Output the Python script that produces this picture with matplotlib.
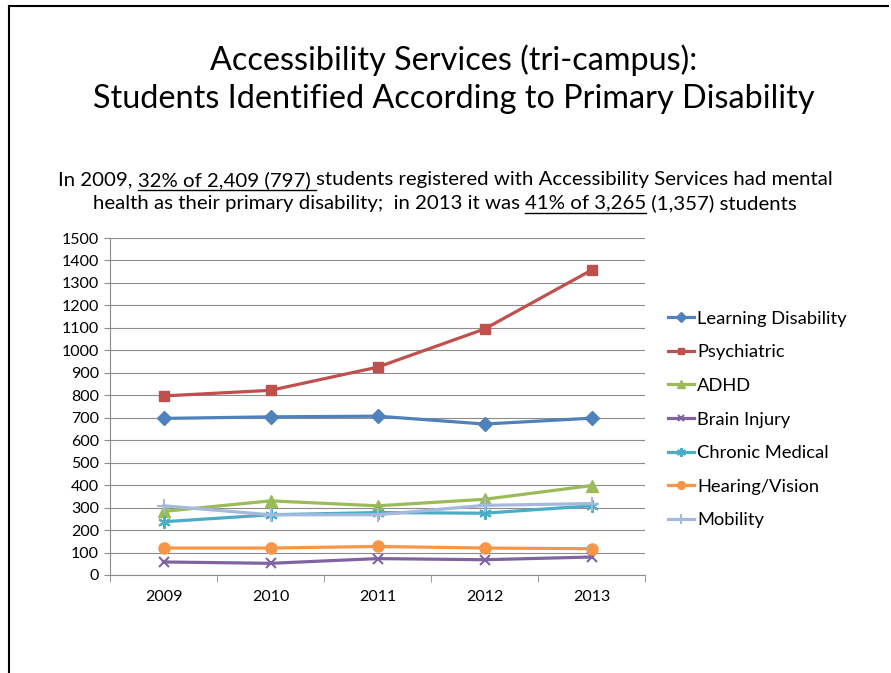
import matplotlib.pyplot as plt
from matplotlib.lines import Line2D

years = ["2009", "2010", "2011", "2012", "2013"]
learning = [697, 704, 707, 672, 698]
psychiatric = [797, 822, 925, 1095, 1357]
adhd = [283, 330, 308, 337, 398]
brain_injury = [58, 52, 73, 68, 80]
chronic_medical = [237, 268, 278, 275, 308]
hearing_vision = [120, 120, 127, 120, 117]
mobility = [308, 268, 268, 310, 318]

series = [
    ("Learning Disability", learning, "#4F81BD", "D", 7),
    ("Psychiatric", psychiatric, "#C0504D", "s", 7),
    ("ADHD", adhd, "#9BBB59", "^", 8),
    ("Brain Injury", brain_injury, "#8064A2", "x", 7),
    ("Chronic Medical", chronic_medical, "#4BACC6", (6, 2, 0), 9),
    ("Hearing/Vision", hearing_vision, "#F79646", "o", 8),
    ("Mobility", mobility, "#A5B9DC", "+", 10),
]

plt.rcParams['font.family'] = ['Lato', 'DejaVu Sans']

W, H = 891, 673
fig = plt.figure(figsize=(W / 100, H / 100), dpi=100)

# slide frame
fig.add_artist(Line2D([9 / W, 9 / W], [0, 1 - 6 / H], color="black", lw=1.5))
fig.add_artist(Line2D([9 / W, 888 / W], [1 - 6 / H, 1 - 6 / H], color="black", lw=1.5))

fig.text(454 / W, 1 - 60 / H, "Accessibility Services (tri-campus):",
         ha="center", va="center", fontsize=23.3)
fig.text(454 / W, 1 - 99 / H, "Students Identified According to Primary Disability",
         ha="center", va="center", fontsize=23.3)

renderer = fig.canvas.get_renderer()


def text_width(s, size):
    t = fig.text(0, 0, s, fontsize=size)
    w = t.get_window_extent(renderer).width
    t.remove()
    return w


def draw_line(y_px, pieces, size=14.7):
    total = sum(text_width(p, size) for p, _ in pieces)
    x = 445 - total / 2
    for p, under in pieces:
        w = text_width(p, size)
        fig.text(x / W, 1 - y_px / H, p, ha="left", va="center", fontsize=size)
        if under:
            fig.add_artist(Line2D([x / W, (x + w) / W],
                                  [1 - (y_px + 10) / H, 1 - (y_px + 10) / H],
                                  color="black", lw=1))
        x += w


draw_line(180, [("In 2009, ", False), ("32% of 2,409 (797) ", True),
                ("students registered with Accessibility Services had mental", False)])
draw_line(203, [("health as their primary disability;  in 2013 it was ", False),
                ("41% of 3,265", True), (" (1,357) students", False)])

ax = fig.add_axes([110 / W, (H - 575) / H, 535 / W, 337 / H])
x = list(range(len(years)))
for name, vals, color, marker, ms in series:
    ax.plot(x, vals, color=color, lw=2.3, marker=marker, markersize=ms,
            markeredgewidth=1.5 if marker in ("x", "+", (6, 2, 0)) else 1,
            markeredgecolor=color, label=name)

ax.set_xlim(-0.5, len(years) - 0.5)
ax.set_ylim(0, 1500)
ax.set_yticks(range(0, 1501, 100))
ax.set_xticks(x)
ax.set_xticklabels(years)
ax.set_xticks([i - 0.5 for i in range(len(years) + 1)], minor=True)
ax.grid(axis="y", color="#8C8C8C", lw=0.8)
ax.set_axisbelow(True)
for side in ("top", "right"):
    ax.spines[side].set_visible(False)
for side in ("left", "bottom"):
    ax.spines[side].set_color("#8C8C8C")
ax.tick_params(axis="y", length=4, color="#8C8C8C", labelsize=11.5, pad=4)
ax.tick_params(axis="x", which="major", length=0, labelsize=11.5, pad=11)
ax.tick_params(axis="x", which="minor", length=5, color="#8C8C8C")

ax.legend(loc="center left", bbox_to_anchor=(668 / W, 1 - 419.5 / H),
          bbox_transform=fig.transFigure, frameon=False, borderpad=0,
          borderaxespad=0, fontsize=13.2, handlelength=1.4, handletextpad=0.2,
          labelspacing=0.96, markerscale=0.7)

fig.savefig("out.png", dpi=100)
